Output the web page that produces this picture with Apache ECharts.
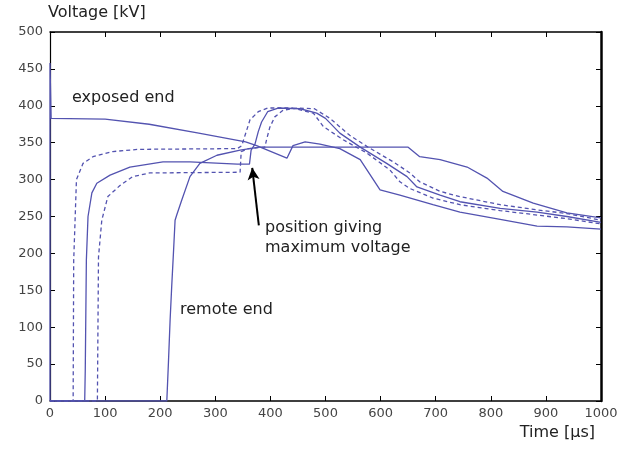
<!DOCTYPE html>
<html>
<head>
<meta charset="utf-8">
<title>Voltage vs time</title>
<script src="https://cdn.jsdelivr.net/npm/echarts@6/dist/echarts.min.js"></script>
<style>
  html, body { margin: 0; padding: 0; background: #fff; }
  #chart { width: 629px; height: 449px; }
</style>
</head>
<body>
<div id="chart"></div>
<script>
// tick values
const xTicks = [0, 100, 200, 300, 400, 500, 600, 700, 800, 900, 1000];
const yTicks = [0, 50, 100, 150, 200, 250, 300, 350, 400, 450, 500];

// curves: [time µs, voltage kV]
const exposedEnd = [
  [0, 0], [0, 458], [2, 383], [100, 382], [180, 375], [270, 363], [355, 351],
  [375, 346], [430, 329], [441, 346], [463, 351], [490, 348], [526, 342],
  [563, 327], [599, 286], [635, 279], [695, 266], [744, 256], [817, 246],
  [884, 237], [938, 236], [1000, 233]
];
const curveA = [ // dashed, earliest arrival
  [0, 0], [42, 0], [43, 190], [48, 300], [60, 322], [78, 331], [114, 338],
  [160, 341], [340, 342], [348, 346], [354, 360], [363, 381], [378, 392],
  [395, 397], [440, 397], [478, 390], [496, 372], [532, 354], [575, 336],
  [617, 313], [635, 297], [653, 288], [695, 275], [744, 266], [817, 258],
  [884, 252], [938, 247], [1000, 240]
];
const curveB = [ // solid
  [0, 0], [63, 0], [64, 42], [66, 191], [69, 250], [76, 282], [85, 295],
  [109, 306], [145, 317], [205, 324], [254, 324], [340, 321], [362, 321],
  [365, 340], [372, 348], [378, 365], [384, 378], [395, 392], [414, 397],
  [454, 396], [484, 390], [500, 383], [526, 363], [563, 344], [611, 322],
  [648, 304], [666, 290], [708, 279], [744, 270], [817, 261], [884, 256],
  [938, 250], [1000, 242]
];
const curveC = [ // dashed, later arrival
  [0, 0], [86, 0], [88, 195], [94, 245], [105, 277], [127, 292], [150, 304],
  [181, 309], [345, 310], [347, 338], [360, 342], [390, 344], [393, 354],
  [399, 371], [408, 385], [423, 394], [448, 397], [480, 396], [508, 383],
  [544, 360], [575, 345], [623, 324], [653, 309], [671, 297], [708, 284],
  [744, 277], [817, 266], [884, 259], [938, 254], [1000, 245]
];
const remoteEnd = [
  [0, 0], [212, 0], [215, 53], [218, 110], [221, 157], [224, 200], [227, 245],
  [230, 252], [239, 272], [254, 304], [272, 322], [303, 333], [345, 340],
  [380, 344], [650, 344], [671, 331], [708, 327], [757, 317], [793, 302],
  [822, 284], [877, 268], [938, 255], [1000, 248]
];
// arrow pointing at the position giving maximum voltage
const arrowFrom = [379, 238];
const arrowTo = [367, 316];

const lineColor = "#5353b0";
const font = "DejaVu Sans, Verdana, sans-serif";

let chart = echarts.init(document.getElementById("chart"));

function curve(name, data, dashed) {
  return {
    name: name,
    type: "line",
    data: data,
    showSymbol: false,
    symbol: "none",
    animation: false,
    lineStyle: {
      color: lineColor,
      width: 1.3,
      type: dashed ? [4, 3] : "solid",
    },
  };
}

const tickCommon = {
  show: true,
  inside: true,
  length: 5,
  lineStyle: { color: "#000", width: 1 },
};

function axisLine(width) {
  return { show: true, onZero: false, lineStyle: { color: "#000", width: width } };
}

let series = [
  curve("exposed end", exposedEnd, false),
  curve("A", curveA, true),
  curve("B", curveB, false),
  curve("C", curveC, true),
  curve("remote end", remoteEnd, false),
];
series[0].markLine = {
  silent: true,
  animation: false,
  symbol: ["none", "arrow"],
  symbolSize: [9, 12],
  label: { show: false },
  lineStyle: { color: "#000", width: 2, type: "solid" },
  data: [[{ coord: arrowFrom }, { coord: arrowTo }]],
};

chart.setOption({
  animation: false,
  grid: { left: 50, right: 28, top: 32, bottom: 48 },
  xAxis: [
    {
      type: "value",
      min: 0,
      max: 1000,
      interval: 100,
      position: "bottom",
      axisLine: axisLine(1.5),
      axisTick: tickCommon,
      splitLine: { show: false },
      axisLabel: {
        color: "#444",
        fontSize: 13,
        fontFamily: font,
        margin: 6,
        formatter: (v) => String(v),
      },
    },
    {
      type: "value",
      min: 0,
      max: 1000,
      interval: 100,
      position: "top",
      axisLine: axisLine(1.5),
      axisTick: tickCommon,
      splitLine: { show: false },
      axisLabel: { show: false },
    },
  ],
  yAxis: [
    {
      type: "value",
      min: 0,
      max: 500,
      interval: 50,
      position: "left",
      axisLine: axisLine(1.2),
      axisTick: tickCommon,
      splitLine: { show: false },
      axisLabel: {
        color: "#444",
        fontSize: 13,
        fontFamily: font,
        margin: 7,
        formatter: (v) => String(v),
      },
    },
    {
      type: "value",
      min: 0,
      max: 500,
      interval: 50,
      position: "right",
      axisLine: axisLine(2.5),
      axisTick: tickCommon,
      splitLine: { show: false },
      axisLabel: { show: false },
    },
  ],
  graphic: [
    {
      type: "text",
      left: 48,
      top: 5,
      style: { text: "Voltage [kV]", fill: "#222", font: "16px " + font },
    },
    {
      type: "text",
      right: 34,
      top: 425,
      style: { text: "Time [µs]", fill: "#222", font: "16px " + font },
    },
    {
      type: "text",
      left: 72,
      top: 90,
      style: { text: "exposed end", fill: "#222", font: "16px " + font },
    },
    {
      type: "text",
      left: 180,
      top: 302,
      style: { text: "remote end", fill: "#222", font: "16px " + font },
    },
    {
      type: "text",
      left: 265,
      top: 218,
      style: {
        text: "position giving\nmaximum voltage",
        fill: "#222",
        font: "16px " + font,
        lineHeight: 20,
      },
    },
  ],
  series: series,
});
</script>
</body>
</html>
